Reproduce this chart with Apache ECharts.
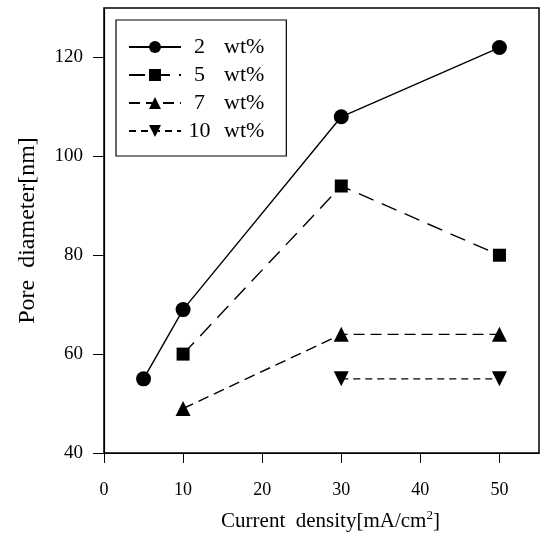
<!DOCTYPE html>
<html>
<head>
<meta charset="utf-8">
<script src="https://cdn.jsdelivr.net/npm/echarts@6/dist/echarts.min.js"></script>
<style>
  html, body { margin: 0; padding: 0; background: #fff; }
  #chart { width: 543px; height: 548px; }
</style>
</head>
<body>
<div id="chart"></div>
<script>
// data
const seriesNames = ["2", "5", "7", "10"];
const wt2 = [[5, 55], [10, 69], [30, 108], [50, 122]];
const wt5 = [[10, 60], [30, 94], [50, 80]];
const wt7 = [[10, 49], [30, 64], [50, 64]];
const wt10 = [[30, 55], [50, 55]];
const xTicks = [0, 10, 20, 30, 40, 50];
const yTicks = [40, 60, 80, 100, 120];

const font = "Liberation Serif";
const chart = echarts.init(document.getElementById("chart"));

function makeSeries(name, data, symbol, dash, size) {
    return {
        name: name,
        type: "line",
        data: data,
        symbol: symbol,
        symbolSize: size,
        itemStyle: { color: "#000" },
        lineStyle: { color: "#000", width: 1.4, type: dash },
        emphasis: { disabled: true },
        animation: false
    };
}

const options = {
    backgroundColor: "#fff",
    grid: {
        left: 104, top: 8, right: 4, bottom: 95,
        show: true, borderColor: "#000", borderWidth: 1.5
    },
    legend: {
        orient: "vertical",
        left: 116, top: 20,
        padding: [16, 22, 14, 12],
        itemGap: 6,
        itemWidth: 52,
        itemHeight: 15,
        borderColor: "#000",
        borderWidth: 1.2,
        formatter: function (name) {
            return "{n|" + name + "}  wt%";
        },
        textStyle: {
            fontFamily: font, fontSize: 22, color: "#000",
            rich: { n: { width: 27, align: "right", fontFamily: font, fontSize: 22 } }
        },
        data: seriesNames
    },
    xAxis: {
        type: "value",
        min: 0, max: 55,
        name: "Current  density[mA/cm{sup|2}]",
        nameLocation: "middle",
        nameGap: 56,
        nameTextStyle: {
            fontFamily: font, fontSize: 21, color: "#000", padding: [0, 0, 0, 18],
            rich: { sup: { fontFamily: font, fontSize: 13, color: "#000", verticalAlign: "top", padding: [0, 0, 12, 0] } }
        },
        splitLine: { show: false },
        axisLine: { onZero: false, lineStyle: { color: "#000", width: 1.2 } },
        axisTick: { length: 10, lineStyle: { color: "#000" }, customValues: xTicks },
        axisLabel: { margin: 28, fontFamily: font, fontSize: 18, color: "#000", customValues: xTicks }
    },
    yAxis: {
        type: "value",
        min: 40, max: 130,
        name: "Pore  diameter[nm]",
        nameLocation: "middle",
        nameGap: 64,
        nameTextStyle: { fontFamily: font, fontSize: 24, color: "#000" },
        splitLine: { show: false },
        axisLine: { onZero: false, lineStyle: { color: "#000", width: 1.2 } },
        axisTick: { length: 11, lineStyle: { color: "#000" }, customValues: yTicks },
        axisLabel: { margin: 21, fontFamily: font, fontSize: 19, color: "#000", customValues: yTicks }
    },
    series: [
        makeSeries("2", wt2, "circle", "solid", 15),
        makeSeries("5", wt5, "rect", [16, 9], 13),
        makeSeries("7", wt7, "triangle", [11, 6], 15),
        makeSeries("10", wt10, "triangle", [7, 5], 15)
    ]
};
options.series[3].symbolRotate = 180;
chart.setOption(options);
</script>
</body>
</html>
